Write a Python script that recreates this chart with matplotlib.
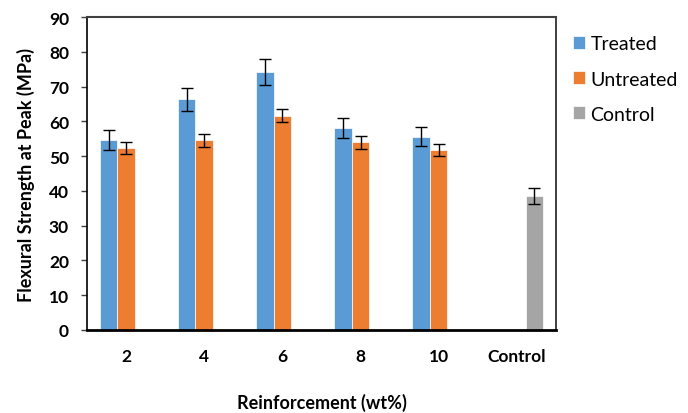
import matplotlib.pyplot as plt
import numpy as np

plt.rcParams['font.family'] = ['Lato', 'DejaVu Sans']

# Категорії та значення
categories = ['2', '4', '6', '8', '10', 'Control']
treated = [54.7, 66.4, 74.2, 58.1, 55.6, np.nan]
treated_err = [2.8, 3.3, 3.7, 2.9, 2.8, 0]
untreated = [52.3, 54.5, 61.6, 54.0, 51.7, np.nan]
untreated_err = [1.8, 1.8, 1.9, 1.9, 1.7, 0]
control = [np.nan, np.nan, np.nan, np.nan, np.nan, 38.5]
control_err = [0, 0, 0, 0, 0, 2.2]

fig = plt.figure(figsize=(6.88, 4.14), dpi=100)
ax = fig.add_axes([0.1265, 0.2005, 0.6815, 0.756])

x = np.arange(len(categories))
w = 0.224
err_kw = dict(ecolor='black', elinewidth=1.0, capsize=4, capthick=1.0)

ax.bar(x - w, treated, w, yerr=treated_err, color='#5B9BD5', edgecolor='white',
       linewidth=0.5, label='Treated', error_kw=err_kw)
ax.bar(x, untreated, w, yerr=untreated_err, color='#ED7D31', edgecolor='white',
       linewidth=0.5, label='Untreated', error_kw=err_kw)
ax.bar(x + w, control, w, yerr=control_err, color='#A5A5A5', edgecolor='white',
       linewidth=0.5, label='Control', error_kw=err_kw)

ax.set_xlim(-0.5, len(categories) - 0.5)
ax.set_ylim(0, 90)
ax.set_yticks(np.arange(0, 91, 10))
ax.set_xticks(x)
ax.set_xticklabels(categories)

for lbl in ax.get_xticklabels() + ax.get_yticklabels():
    lbl.set_fontweight('bold')
    lbl.set_fontsize(12.5)

ax.tick_params(axis='x', length=0, pad=13)
ax.tick_params(axis='y', direction='out', length=4, width=1, pad=9, color='#404040')

ax.spines['left'].set_color('black')
ax.spines['left'].set_linewidth(1.2)
ax.spines['bottom'].set_color('black')
ax.spines['bottom'].set_linewidth(2.0)
ax.spines['top'].set_color('#404040')
ax.spines['top'].set_linewidth(1.5)
ax.spines['right'].set_color('#202020')
ax.spines['right'].set_linewidth(1.2)

ax.set_ylabel('Flexural Strength at Peak (MPa)', fontsize=13, fontweight='bold', labelpad=10)
ax.set_xlabel('Reinforcement (wt%)', fontsize=13, fontweight='bold', labelpad=21)

ax.legend(loc='upper left', bbox_to_anchor=(1.0, 0.997), frameon=False,
          fontsize=14, handlelength=0.62, handleheight=0.62, handletextpad=0.25,
          labelspacing=0.93)

fig.savefig('out.png', dpi=100)
